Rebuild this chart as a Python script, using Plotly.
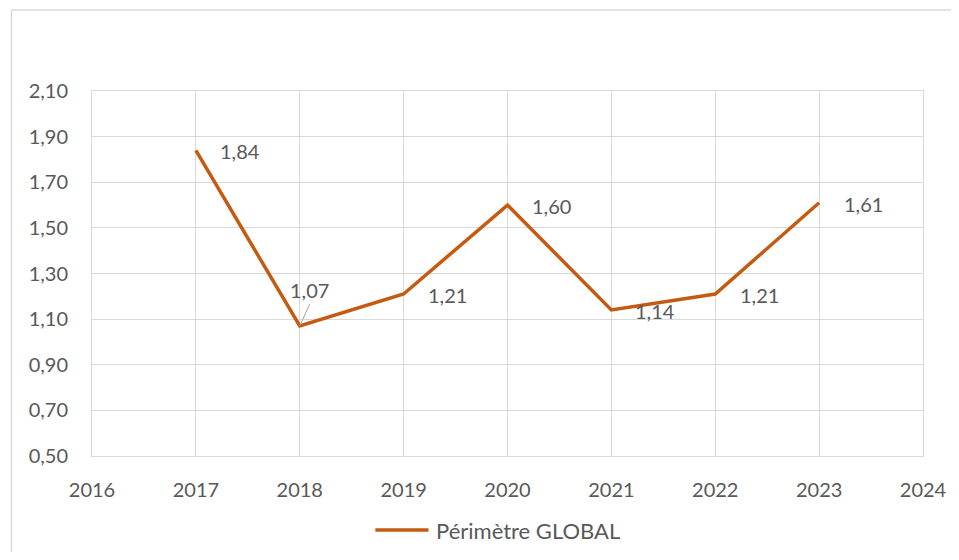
import plotly.graph_objects as go

# data
years = [2017, 2018, 2019, 2020, 2021, 2022, 2023]
values = [1.84, 1.07, 1.21, 1.60, 1.14, 1.21, 1.61]
labels = ["1,84", "1,07", "1,21", "1,60", "1,14", "1,21", "1,61"]
y_ticks = [0.50, 0.70, 0.90, 1.10, 1.30, 1.50, 1.70, 1.90, 2.10]
y_tick_text = ["0,50", "0,70", "0,90", "1,10", "1,30", "1,50", "1,70", "1,90", "2,10"]
x_ticks = list(range(2016, 2025))
series_name = "Périmètre GLOBAL"

LINE = "#C55A11"
INK = "#595959"
GRID = "#D9D9D9"
FONT = "Lato, 'Open Sans', sans-serif"
FS = 20

fig = go.Figure()
fig.add_trace(go.Scatter(x=years, y=values, mode="lines", name=series_name,
                         line=dict(color=LINE, width=3.5), showlegend=False))

for yr, v, lab in zip(years, values, labels):
    if yr == 2018:
        # crowded label sits above the point with a leader line
        fig.add_annotation(x=yr, y=v, text=lab, showarrow=True, arrowhead=0,
                           arrowcolor="#A6A6A6", arrowwidth=1, ax=10, ay=-22,
                           font=dict(family=FONT, size=FS, color=INK),
                           yanchor="bottom", xanchor="center")
    else:
        fig.add_annotation(x=yr, y=v, text=lab, showarrow=False, xshift=44, yshift=-1,
                           font=dict(family=FONT, size=FS, color=INK))

# Excel-style legend below the plot (longer swatch than plotly's own legend)
fig.add_shape(type="line", xref="paper", yref="paper", x0=0.341, x1=0.405,
              y0=-0.203, y1=-0.203, line=dict(color=LINE, width=3.5))
fig.add_annotation(xref="paper", yref="paper", x=0.412, y=-0.203, text=series_name,
                   showarrow=False, xanchor="left", yanchor="middle",
                   font=dict(family=FONT, size=22, color=INK))

# chart-area frame (partially off-canvas, as in the reference)
fig.add_shape(type="line", xref="paper", yref="paper", x0=-0.097, x1=-0.097,
              y0=1.222, y1=-0.4, line=dict(color=GRID, width=1.5))
fig.add_shape(type="line", xref="paper", yref="paper", x0=-0.097, x1=1.1,
              y0=1.222, y1=1.222, line=dict(color=GRID, width=1.5))

fig.update_xaxes(range=[2016, 2024], tickvals=x_ticks, ticktext=[str(t) for t in x_ticks],
                 showgrid=True, gridcolor=GRID, gridwidth=1, zeroline=False,
                 showline=True, linecolor=GRID, linewidth=1, mirror=True, ticks="",
                 ticklabelstandoff=16,
                 tickfont=dict(family=FONT, size=FS, color=INK))
fig.update_yaxes(range=[0.5, 2.1], tickvals=y_ticks, ticktext=y_tick_text,
                 showgrid=True, gridcolor=GRID, gridwidth=1, zeroline=False,
                 showline=True, linecolor=GRID, linewidth=1, mirror=True, ticks="",
                 ticklabelstandoff=19,
                 tickfont=dict(family=FONT, size=FS, color=INK))
fig.update_layout(
    width=951, height=544, paper_bgcolor="white", plot_bgcolor="white",
    margin=dict(l=84, r=28, t=83, b=96),
    showlegend=False,
)

fig.write_html("out.html")
